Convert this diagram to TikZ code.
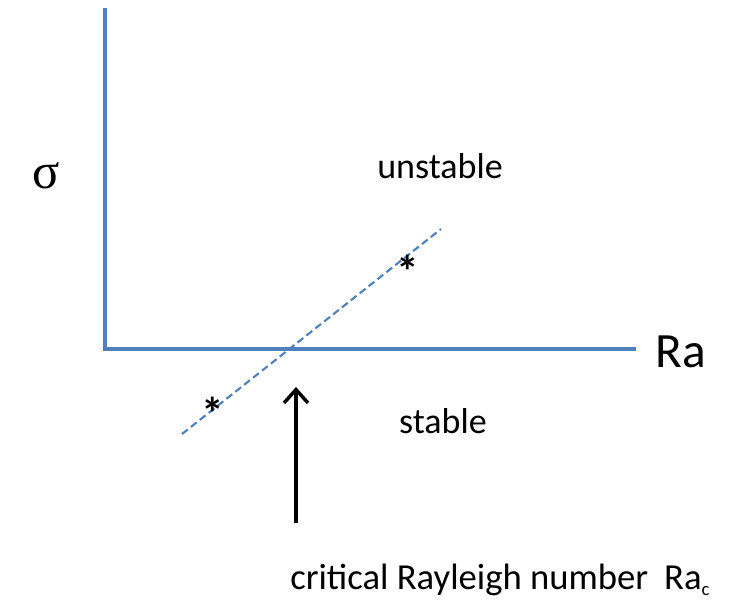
\documentclass[tikz,border=0pt]{standalone}
\usepackage{fontspec}
\setmainfont{Carlito}
\newfontfamily\greekfont{Liberation Serif}
\usetikzlibrary{arrows.meta}
\definecolor{axisblue}{RGB}{79,129,189}
\tikzset{
  axisline/.style={draw=axisblue, line width=3pt},
  fitline/.style={draw=axisblue, line width=1.6pt, dash pattern=on 5.5pt off 3pt},
  marker/.style={inner sep=0pt, font=\bfseries\fontsize{34pt}{34pt}\selectfont},
  regionlabel/.style={inner sep=0pt, font=\fontsize{27pt}{30pt}\selectfont}
}
\begin{document}
\begin{tikzpicture}[x=0.75pt, y=-0.75pt]
  \useasboundingbox (0, 0) rectangle (736, 603);
  % axes
  \coordinate (origin) at (105, 349);
  \coordinate (ytop) at (105, 8);
  \coordinate (xend) at (636, 349);
  \draw[axisline] (ytop) -- (origin) -- (xend);
  \node[inner sep=0pt, font=\greekfont\fontsize{38pt}{38pt}\selectfont] (sigma) at (46, 176) {σ};
  \node[inner sep=0pt, anchor=west, font=\fontsize{37pt}{40pt}\selectfont] (ra) at (655, 352) {Ra};
  % dashed line through the crossing point
  \coordinate (lowend) at (182, 434);
  \coordinate (highend) at (441, 229);
  \draw[fitline] (lowend) -- (highend);
  \node[marker] (starlow) at (213, 413) {*};
  \node[marker] (starhigh) at (408, 271) {*};
  % regions
  \node[regionlabel] (unstable) at (440, 166) {unstable};
  \node[regionlabel] (stable) at (443, 421) {stable};
  % critical value
  \coordinate (arrowfoot) at (296, 523);
  \coordinate (arrowtip) at (296, 387);
  \draw[line width=2.6pt, -{Straight Barb[length=10pt, width=18pt, line width=2.6pt]}] (arrowfoot) -- (arrowtip);
  \node[inner sep=0pt, anchor=base west, font=\fontsize{27.5pt}{30pt}\selectfont] (critical) at (290, 589)
    {critical Rayleigh number\hspace{12pt}Ra\raisebox{-5pt}{\fontsize{14pt}{14pt}\selectfont c}};
\end{tikzpicture}
\end{document}
